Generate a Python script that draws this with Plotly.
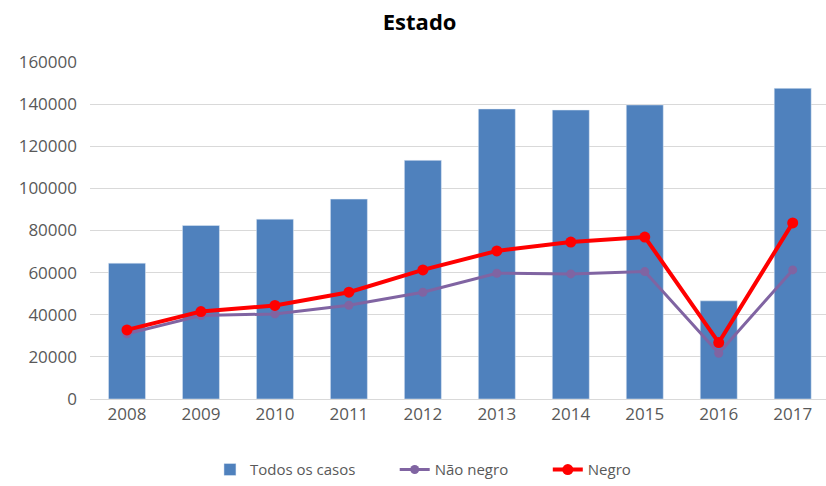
import plotly.graph_objects as go

years = ["2008", "2009", "2010", "2011", "2012", "2013", "2014", "2015", "2016", "2017"]
todos = [64500, 82400, 85400, 94900, 113300, 137700, 137200, 139600, 46600, 147500]
nao_negro = [31000, 39600, 40400, 44500, 50700, 59700, 59400, 60500, 21700, 61300]
negro = [32800, 41500, 44400, 50700, 61300, 70300, 74500, 76900, 26800, 83600]
y_ticks = [0, 20000, 40000, 60000, 80000, 100000, 120000, 140000, 160000]

fig = go.Figure()
fig.add_trace(go.Bar(x=years, y=todos, name="Todos os casos", marker_color="#4F81BD",
                     legend="legend"))
fig.add_trace(go.Scatter(x=years, y=nao_negro, name="Não negro", mode="lines+markers",
                         line=dict(color="#8064A2", width=3),
                         marker=dict(color="#8064A2", size=9), legend="legend2"))
fig.add_trace(go.Scatter(x=years, y=negro, name="Negro", mode="lines+markers",
                         line=dict(color="#FF0000", width=4),
                         marker=dict(color="#FF0000", size=11), legend="legend3"))

leg_common = dict(orientation="h", y=-0.21, yanchor="middle", xanchor="left",
                  font=dict(size=15, color="#595959"), itemwidth=30,
                  bgcolor="rgba(0,0,0,0)")

fig.update_layout(
    width=826, height=486,
    margin=dict(l=90, r=0, t=62, b=87, autoexpand=False),
    paper_bgcolor="white", plot_bgcolor="white",
    font=dict(family="Open Sans", color="#595959", size=14),
    title=dict(text="<b>Estado</b>", x=0.508, xanchor="center", y=0.955, yanchor="middle",
               font=dict(family="Open Sans", size=22, color="#000000")),
    bargap=0.5,
    showlegend=True,
    legend=dict(x=0.163, **leg_common),
    legend2=dict(x=0.414, **leg_common),
    legend3=dict(x=0.622, **leg_common),
    xaxis=dict(showgrid=False, showline=True, linecolor="#D9D9D9", ticks="",
               range=[-0.5, 9.45], automargin=False,
               tickfont=dict(size=17, color="#595959")),
    yaxis=dict(range=[0, 160000], tickvals=y_ticks, tickformat="d", automargin=False,
               showgrid=True, gridcolor="#D9D9D9", gridwidth=1, zeroline=False,
               tickfont=dict(size=17, color="#595959"), ticklabelstandoff=12),
)

fig.write_html("out.html")
